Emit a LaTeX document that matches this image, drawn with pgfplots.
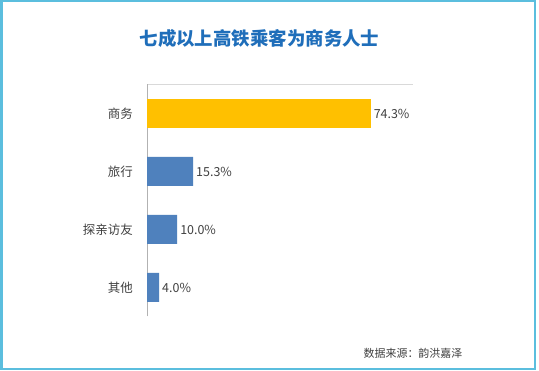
\documentclass[border=0pt]{standalone}
\usepackage{pgfplots}
\pgfplotsset{compat=1.18}
\usepackage{fontspec}
\setmainfont{Noto Sans CJK SC}
\definecolor{framec}{RGB}{91,190,222}
\definecolor{titleblue}{RGB}{31,110,186}
\definecolor{bargold}{RGB}{255,192,0}
\definecolor{barblue}{RGB}{79,129,189}
\definecolor{txt}{RGB}{64,64,64}
\begin{document}
\begin{tikzpicture}
\path[use as bounding box] (0bp,0bp) rectangle (539bp,371bp);
\fill[white] (0bp,0bp) rectangle (539bp,371bp);
\draw[framec, line width=2bp] (1.5bp,2bp) rectangle (535bp,369.5bp);
\node[titleblue, font=\fontsize{18.5}{20}\selectfont\bfseries] at (259.5bp,333bp) {七成以上高铁乘客为商务人士};
\node[txt, font=\fontsize{11}{12}\selectfont] at (413bp,18bp) {数据来源：韵洪嘉泽};
\begin{axis}[
  at={(147bp,54.5bp)}, anchor=south west, scale only axis,
  width=266bp, height=232bp,
  xmin=0, xmax=88.4, ymin=-0.5, ymax=3.5,
  xbar, bar width=29bp,
  axis x line*=top, axis y line*=left,
  x axis line style={draw=black!15, line width=0.8pt},
  y axis line style={draw=black!30, line width=0.8pt},
  xtick=\empty,
  ytick={0,1,2,3}, yticklabels={其他,探亲访友,旅行,商务},
  major tick length=0pt,
  yticklabel style={font=\fontsize{12.5}{14}\selectfont, text=txt, inner sep=0pt, anchor=east, xshift=-14bp},
  nodes near coords, point meta=explicit symbolic,
  nodes near coords style={font=\fontsize{12.5}{14}\selectfont, text=txt, inner sep=0pt, anchor=west, xshift=3bp},
  clip=false,
]
\addplot[fill=bargold, draw=none, bar shift=0pt] coordinates {(74.3,3) [74.3\%]};
\addplot[fill=barblue, draw=none, bar shift=0pt] coordinates {(15.3,2) [15.3\%] (10.0,1) [10.0\%] (4.0,0) [4.0\%]};
\end{axis}
\end{tikzpicture}
\end{document}
